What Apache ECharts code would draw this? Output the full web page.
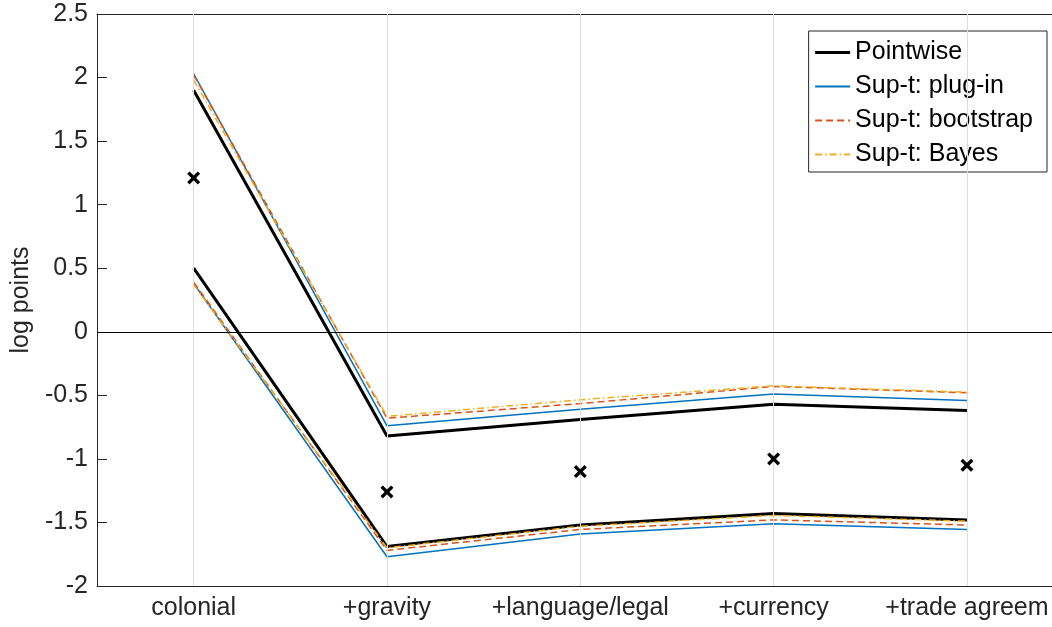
<!DOCTYPE html>
<html>
<head>
<meta charset="utf-8">
<script src="https://cdn.jsdelivr.net/npm/echarts@6/dist/echarts.min.js"></script>
<style>html,body{margin:0;padding:0;background:#fff}#c{width:1052px;height:627px}</style>
</head>
<body>
<div id="c"></div>
<script>
const categories = ['colonial', '+gravity', '+language/legal', '+currency', '+trade agreem'];
const yTicks = [-2, 2.5, 0.5]; // min, max, interval
const xRange = [-0.5, 4.44];   // axis extends past the window on the right
const estimate = [1.21, -1.26, -1.10, -1.00, -1.05];
const pointwiseUpper = [1.90, -0.82, -0.69, -0.57, -0.62];
const pointwiseLower = [0.50, -1.69, -1.52, -1.43, -1.48];
const plugUpper = [2.03, -0.74, -0.61, -0.49, -0.54];
const plugLower = [0.38, -1.77, -1.59, -1.51, -1.555];
const bootUpper = [2.02, -0.68, -0.565, -0.43, -0.48];
const bootLower = [0.39, -1.72, -1.555, -1.48, -1.52];
const bayesUpper = [1.98, -0.665, -0.535, -0.425, -0.475];
const bayesLower = [0.37, -1.70, -1.53, -1.445, -1.49];
const zeroLine = 0;

const FONT = 'Liberation Sans';
const TXT = '#262626';
const blue = '#0072BD', orange = '#D95319', yellow = '#EDB120';
const catIdx = categories.map((c, i) => i);
const pairs = arr => arr.map((v, i) => [i, v]);

function band(name, data, color, width, type) {
  return {
    name: name, type: 'line', data: pairs(data), symbol: 'none', silent: true,
    lineStyle: { color: color, width: width, type: type },
    itemStyle: { color: color },
    z: 3
  };
}

function xAxisDef(pos, labels) {
  return {
    type: 'value', min: xRange[0], max: xRange[1], position: pos,
    axisLine: { show: true, onZero: false, lineStyle: { color: TXT, width: 1 } },
    axisTick: { show: true, inside: true, length: 10, customValues: catIdx, lineStyle: { color: TXT } },
    axisLabel: {
      show: labels, customValues: catIdx, fontFamily: FONT, fontSize: 25, color: TXT, margin: 10,
      formatter: v => categories[Math.round(v)]
    },
    splitLine: { show: false }
  };
}

const chart = echarts.init(document.getElementById('c'), null, { renderer: 'canvas' });
chart.setOption({
  animation: false,
  backgroundColor: '#fff',
  textStyle: { fontFamily: FONT },
  grid: { left: 97, top: 14, bottom: 41, right: 0, containLabel: false },
  legend: {
    data: [
      { name: 'Pointwise', lineStyle: { width: 3 } },
      { name: 'Sup-t: plug-in' }, { name: 'Sup-t: bootstrap' }, { name: 'Sup-t: Bayes' }
    ],
    orient: 'vertical', right: 5, top: 31,
    itemWidth: 35, itemHeight: 14, itemGap: 9,
    padding: [9, 14, 5, 5],
    borderColor: '#262626', borderWidth: 1, backgroundColor: '#fff',
    itemStyle: { opacity: 0 },
    textStyle: { fontFamily: FONT, fontSize: 25, color: '#000', lineHeight: 25 },
    selectedMode: false
  },
  xAxis: [xAxisDef('bottom', true), xAxisDef('top', false)],
  yAxis: {
    type: 'value', min: yTicks[0], max: yTicks[1], interval: yTicks[2], position: 'left',
    name: 'log points', nameLocation: 'middle', nameGap: 58, nameRotate: 90,
    nameTextStyle: { fontFamily: FONT, fontSize: 25, color: TXT },
    axisLine: { show: true, onZero: false, lineStyle: { color: TXT, width: 1 } },
    axisTick: { show: true, inside: true, length: 10, lineStyle: { color: TXT } },
    axisLabel: { fontFamily: FONT, fontSize: 25, color: TXT, margin: 9 },
    splitLine: { show: false }
  },
  series: [
    {
      name: 'grid', type: 'line', data: [], silent: true, z: 1,
      markLine: {
        silent: true, symbol: 'none', label: { show: false },
        lineStyle: { color: '#dcdcdc', width: 1, type: 'solid' },
        data: catIdx.map(i => ({ xAxis: i }))
      }
    },
    {
      name: 'zero', type: 'line', data: [], silent: true, z: 2,
      markLine: {
        silent: true, symbol: 'none', label: { show: false },
        lineStyle: { color: '#000', width: 1, type: 'solid' },
        data: [{ yAxis: zeroLine }]
      }
    },
    band('Pointwise', pointwiseUpper, '#000', 3, 'solid'),
    band('Pointwise', pointwiseLower, '#000', 3, 'solid'),
    band('Sup-t: plug-in', plugUpper, blue, 1.5, 'solid'),
    band('Sup-t: plug-in', plugLower, blue, 1.5, 'solid'),
    band('Sup-t: bootstrap', bootUpper, orange, 1.5, [7, 4]),
    band('Sup-t: bootstrap', bootLower, orange, 1.5, [7, 4]),
    band('Sup-t: Bayes', bayesUpper, yellow, 1.5, [7, 3, 1.5, 3]),
    band('Sup-t: Bayes', bayesLower, yellow, 1.5, [7, 3, 1.5, 3]),
    {
      name: 'estimate', type: 'scatter', data: pairs(estimate), silent: true, z: 5,
      symbol: 'path://M0,2.2L2.2,0L6,3.8L9.8,0L12,2.2L8.2,6L12,9.8L9.8,12L6,8.2L2.2,12L0,9.8L3.8,6Z',
      symbolSize: 13,
      itemStyle: { color: '#000', opacity: 1, borderWidth: 0 }
    }
  ]
});
</script>
</body>
</html>
